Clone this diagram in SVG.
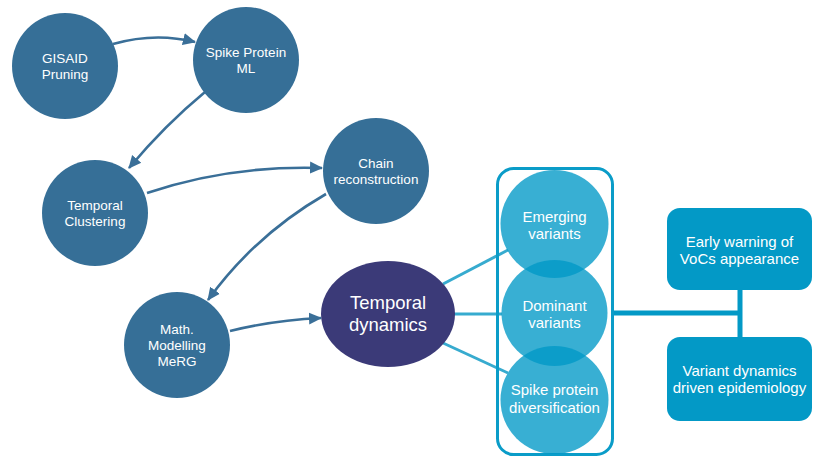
<svg xmlns="http://www.w3.org/2000/svg" width="822" height="463" viewBox="0 0 822 463">
<defs>
<style>
.nd{fill:#366f97}
.t{fill:#fff;font-family:"Liberation Sans",Arial,sans-serif;text-anchor:middle}
.s13{font-size:13.5px}
.s14{font-size:15px}
.arr{fill:none;stroke:#3a6f98;stroke-width:2.6;marker-end:url(#ah)}
.lb{stroke:#37abcf;stroke-width:3;fill:none}
.vc{fill:#0099c7;fill-opacity:0.78}
.bx{fill:#0399c6}
</style>
<marker id="ah" markerUnits="userSpaceOnUse" markerWidth="14" markerHeight="14" viewBox="0 0 14 14" refX="12" refY="7" orient="auto">
<path d="M0,1 L13,7 L0,13 Z" fill="#3a6f98"/>
</marker>
</defs>
<g id="connectors">
<path class="arr" d="M113,44 Q155,32 195,42"/>
<path class="arr" d="M205,92 Q165,125 129,168"/>
<path class="arr" d="M147,193 Q230,165 322,168"/>
<path class="arr" d="M326,194 Q255,235 208,300"/>
<path class="arr" d="M230,331 Q275,320 321,318"/>
<line class="lb" x1="443" y1="284" x2="508" y2="250"/>
<line class="lb" x1="454" y1="314" x2="502" y2="314"/>
<line class="lb" x1="443" y1="343" x2="508" y2="373"/>
<path d="M613,313 H742 M740,290 V337" stroke="#0399c6" stroke-width="5" fill="none"/>
</g>
<g id="gisaid">
<circle class="nd" cx="65" cy="66" r="53"/>
<text class="t s13" x="65" y="63">GISAID</text>
<text class="t s13" x="65" y="79">Pruning</text>
</g>
<g id="spike-ml">
<circle class="nd" cx="246" cy="60" r="53"/>
<text class="t s13" x="246" y="57">Spike Protein</text>
<text class="t s13" x="246" y="73">ML</text>
</g>
<g id="temporal-clustering">
<circle class="nd" cx="95" cy="213" r="53"/>
<text class="t s13" x="95" y="210">Temporal</text>
<text class="t s13" x="95" y="226">Clustering</text>
</g>
<g id="chain">
<circle class="nd" cx="376" cy="171" r="53"/>
<text class="t s13" x="376" y="168">Chain</text>
<text class="t s13" x="376" y="184">reconstruction</text>
</g>
<g id="math">
<circle class="nd" cx="177" cy="345" r="53"/>
<text class="t s13" x="177" y="334">Math.</text>
<text class="t s13" x="177" y="350">Modelling</text>
<text class="t s13" x="177" y="366">MeRG</text>
</g>
<g id="temporal-dynamics">
<ellipse cx="388" cy="314" rx="67" ry="53" fill="#3b3a78"/>
<text class="t" x="388" y="309" font-size="18.5">Temporal</text>
<text class="t" x="388" y="331" font-size="18.5">dynamics</text>
</g>
<g id="variants-group">
<rect x="497.5" y="168.5" width="115" height="286" rx="16" fill="none" stroke="#0a9cc8" stroke-width="3"/>
</g>
<g id="emerging">
<circle class="vc" cx="554.5" cy="224" r="54"/>
<text class="t s14" x="554.5" y="222">Emerging</text>
<text class="t s14" x="554.5" y="239">variants</text>
</g>
<g id="dominant">
<circle class="vc" cx="554.5" cy="313" r="53"/>
<text class="t s14" x="554.5" y="311">Dominant</text>
<text class="t s14" x="554.5" y="328">variants</text>
</g>
<g id="spike-div">
<circle class="vc" cx="554.5" cy="400" r="54"/>
<text class="t s14" x="554.5" y="395">Spike protein</text>
<text class="t s14" x="554.5" y="413">diversification</text>
</g>
<g id="early-warning">
<rect class="bx" x="667" y="208" width="145" height="82" rx="13"/>
<text class="t s14" x="739.5" y="247">Early warning of</text>
<text class="t s14" x="739.5" y="264">VoCs appearance</text>
</g>
<g id="variant-dynamics">
<rect class="bx" x="667" y="337" width="145" height="84" rx="13"/>
<text class="t s14" x="739.5" y="376">Variant dynamics</text>
<text class="t s14" x="739.5" y="393">driven epidemiology</text>
</g>
</svg>
